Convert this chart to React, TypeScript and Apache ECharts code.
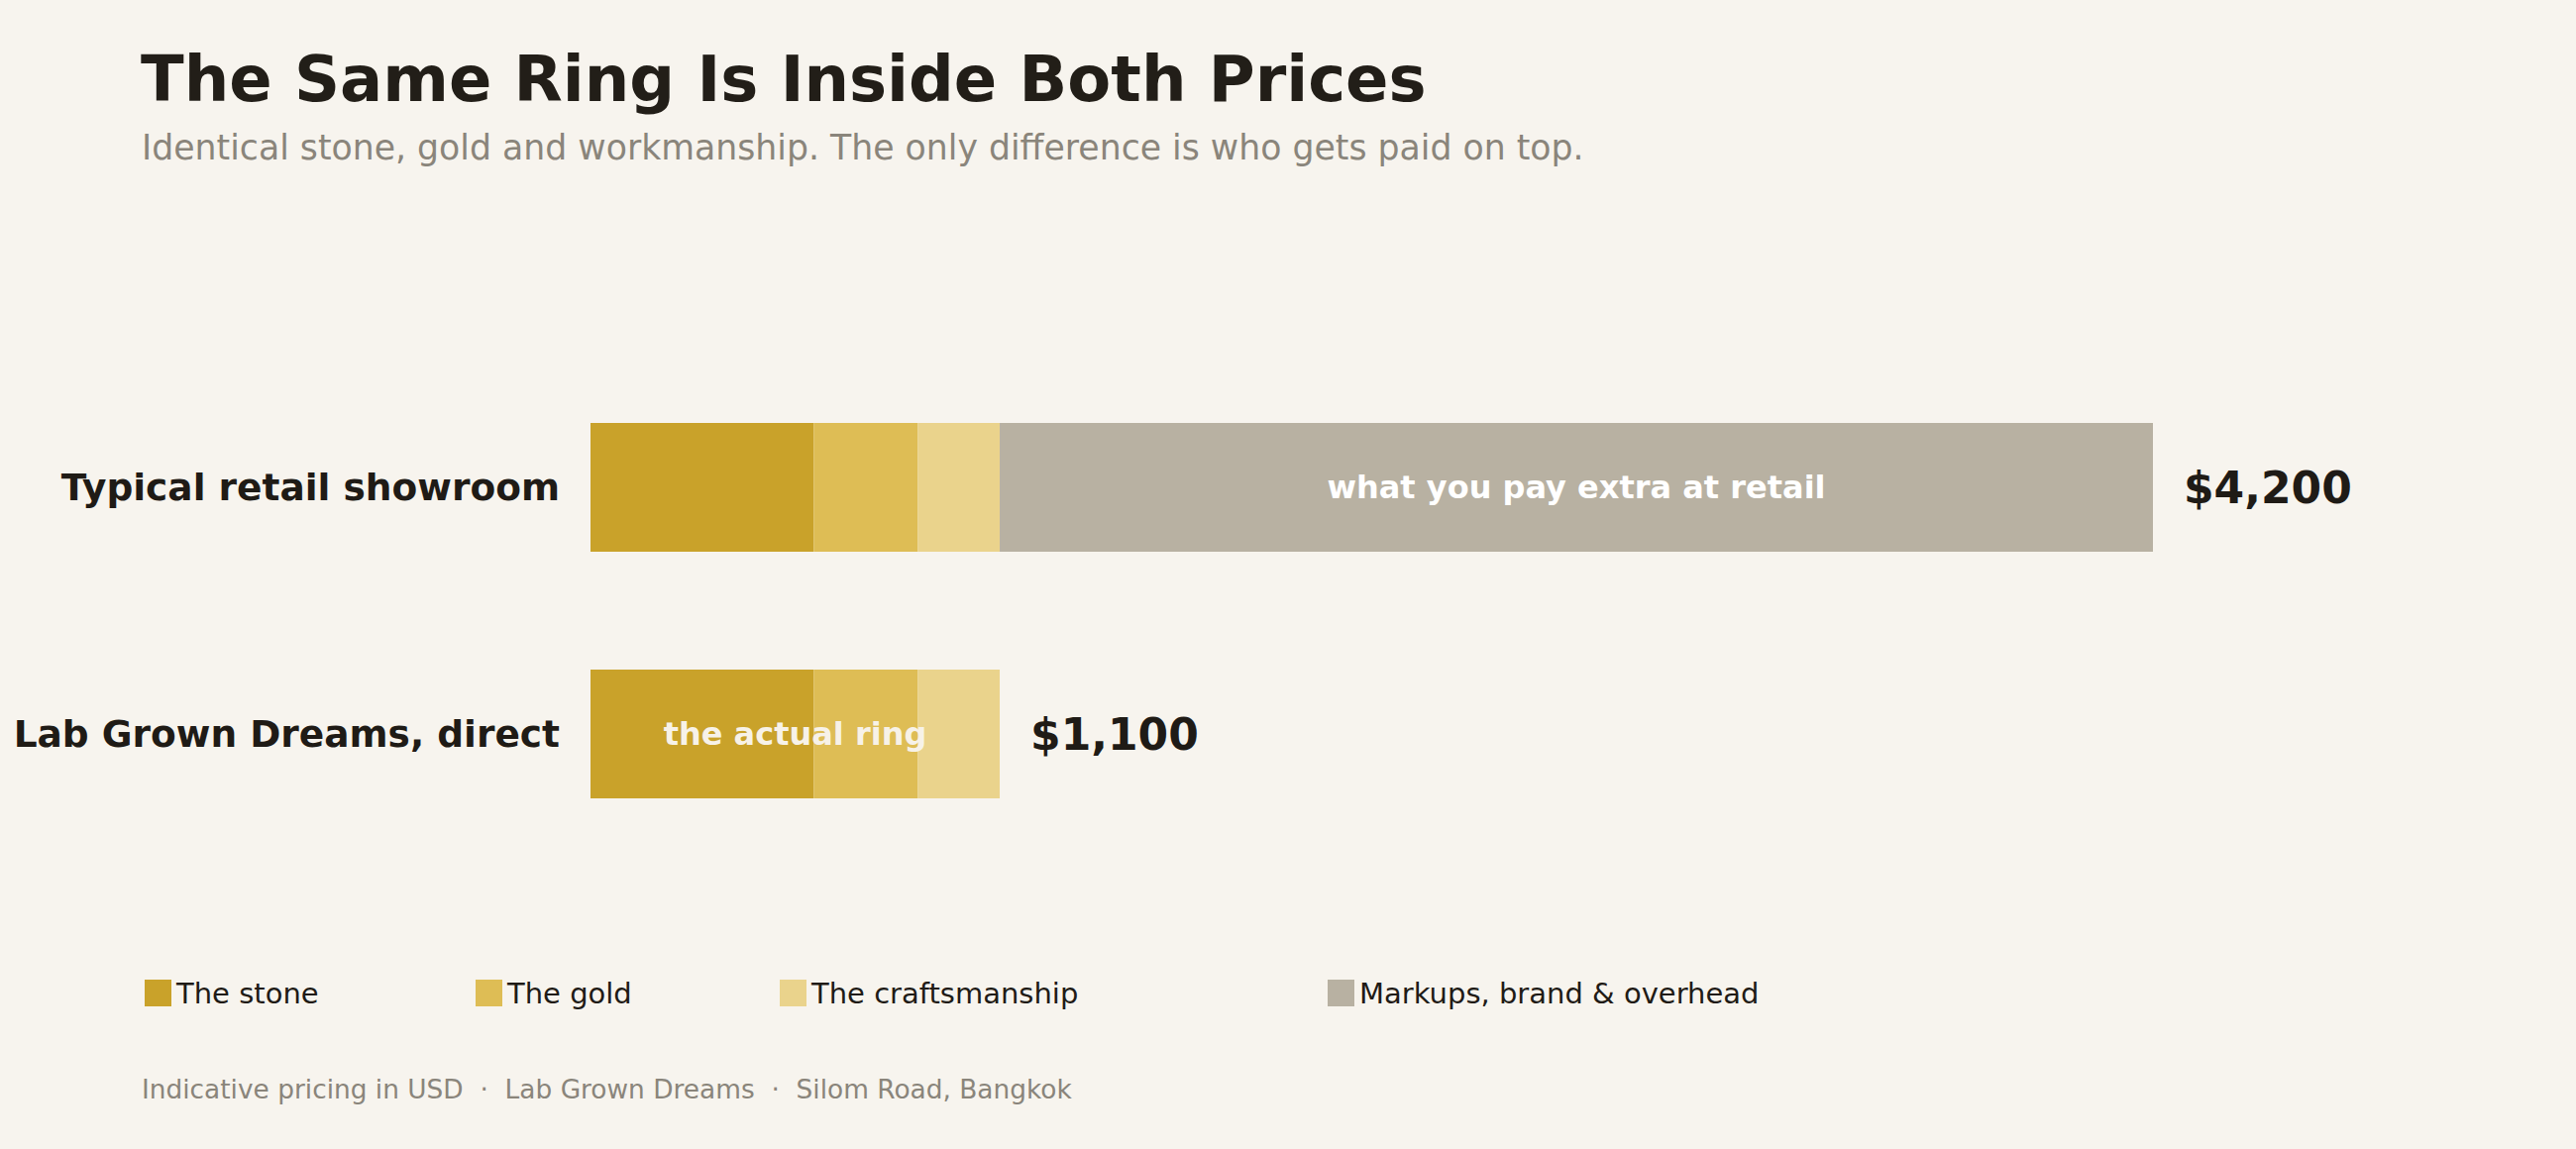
import { useEffect, useRef } from "react";
import * as echarts from "echarts";

const CATEGORIES = ["Typical retail showroom", "Lab Grown Dreams, direct"];
const SEGMENTS = ["The stone", "The gold", "The craftsmanship", "Markups, brand & overhead"];
const STONE = [600, 600];
const GOLD = [280, 280];
const CRAFT = [220, 220];
const MARKUP = [3100, null];
const RING = [null, 1100];
const TOTALS = [4200, 1100];
const NOTES = ["what you pay extra at retail", "the actual ring"];
const LEGEND_LEFT = [146, 480, 787, 1340];

const COLORS = ["#c9a22a", "#debd55", "#ead38c", "#b8b1a2"];
const BG = "#f7f4ee";
const INK = "#1f1b16";
const MUTED = "#8a857b";
const FONT = '"DejaVu Sans", sans-serif';

const App = () => {
  const containerRef = useRef<HTMLDivElement>(null);

  useEffect(() => {
    document.body.style.margin = "0";
    if (!containerRef.current) return;
    const chart = echarts.init(containerRef.current, undefined, { renderer: "svg" });

    const segmentSeries = [STONE, GOLD, CRAFT, MARKUP].map((values, i) => ({
      name: SEGMENTS[i],
      type: "bar",
      stack: "price",
      data: values,
      barWidth: 130,
      barGap: "-100%",
      itemStyle: { color: COLORS[i] },
      label:
        i === 3
          ? {
              show: true,
              position: "inside",
              formatter: () => NOTES[0],
              color: "#ffffff",
              fontFamily: FONT,
              fontWeight: "bold",
              fontSize: 32,
            }
          : { show: false },
    }));

    chart.setOption({
      animation: false,
      backgroundColor: BG,
      textStyle: { fontFamily: FONT },
      grid: { left: 596, top: 367.5, width: 1577, height: 498 },
      xAxis: { type: "value", min: 0, max: 4200, show: false },
      yAxis: {
        type: "category",
        inverse: true,
        data: CATEGORIES,
        axisLine: { show: false },
        axisTick: { show: false },
        splitLine: { show: false },
        axisLabel: {
          margin: 31,
          color: INK,
          fontFamily: FONT,
          fontWeight: "bold",
          fontSize: 37.5,
        },
      },
      legend: SEGMENTS.map((name, i) => ({
        data: [name],
        left: LEGEND_LEFT[i],
        top: 988,
        padding: 0,
        icon: "rect",
        itemWidth: 27,
        itemHeight: 27,
        selectedMode: false,
        textStyle: { color: INK, fontFamily: FONT, fontSize: 29, lineHeight: 27 },
      })),
      series: [
        ...segmentSeries,
        {
          name: "ring",
          type: "bar",
          stack: "ring",
          data: RING,
          barWidth: 130,
          barGap: "-100%",
          itemStyle: { color: "rgba(0,0,0,0)" },
          label: {
            show: true,
            position: "inside",
            formatter: () => NOTES[1],
            color: "#f7f2e8",
            fontFamily: FONT,
            fontWeight: "bold",
            fontSize: 32,
          },
        },
        {
          name: "total",
          type: "bar",
          stack: "total",
          data: TOTALS,
          barWidth: 130,
          barGap: "-100%",
          itemStyle: { color: "rgba(0,0,0,0)" },
          label: {
            show: true,
            position: "right",
            distance: 31,
            formatter: (p: any) => "$" + Number(p.value).toLocaleString("en-US"),
            color: INK,
            fontFamily: FONT,
            fontWeight: "bold",
            fontSize: 44,
          },
        },
      ],
      graphic: [
        {
          type: "text",
          x: 142,
          y: 80,
          style: {
            text: "The Same Ring Is Inside Both Prices",
            fill: "#221e18",
            font: `bold 64px ${FONT}`,
            verticalAlign: "middle",
          },
        },
        {
          type: "text",
          x: 143,
          y: 149,
          style: {
            text: "Identical stone, gold and workmanship. The only difference is who gets paid on top.",
            fill: MUTED,
            font: `34.7px ${FONT}`,
            verticalAlign: "middle",
          },
        },
        {
          type: "text",
          x: 143,
          y: 1099,
          style: {
            text: "Indicative pricing in USD  \u00b7  Lab Grown Dreams  \u00b7  Silom Road, Bangkok",
            fill: MUTED,
            font: `26.4px ${FONT}`,
            verticalAlign: "middle",
          },
        },
      ],
    });

    return () => {
      chart.dispose();
    };
  }, []);

  return <div ref={containerRef} style={{ width: "2600px", height: "1160px" }} />;
};

export default App;
